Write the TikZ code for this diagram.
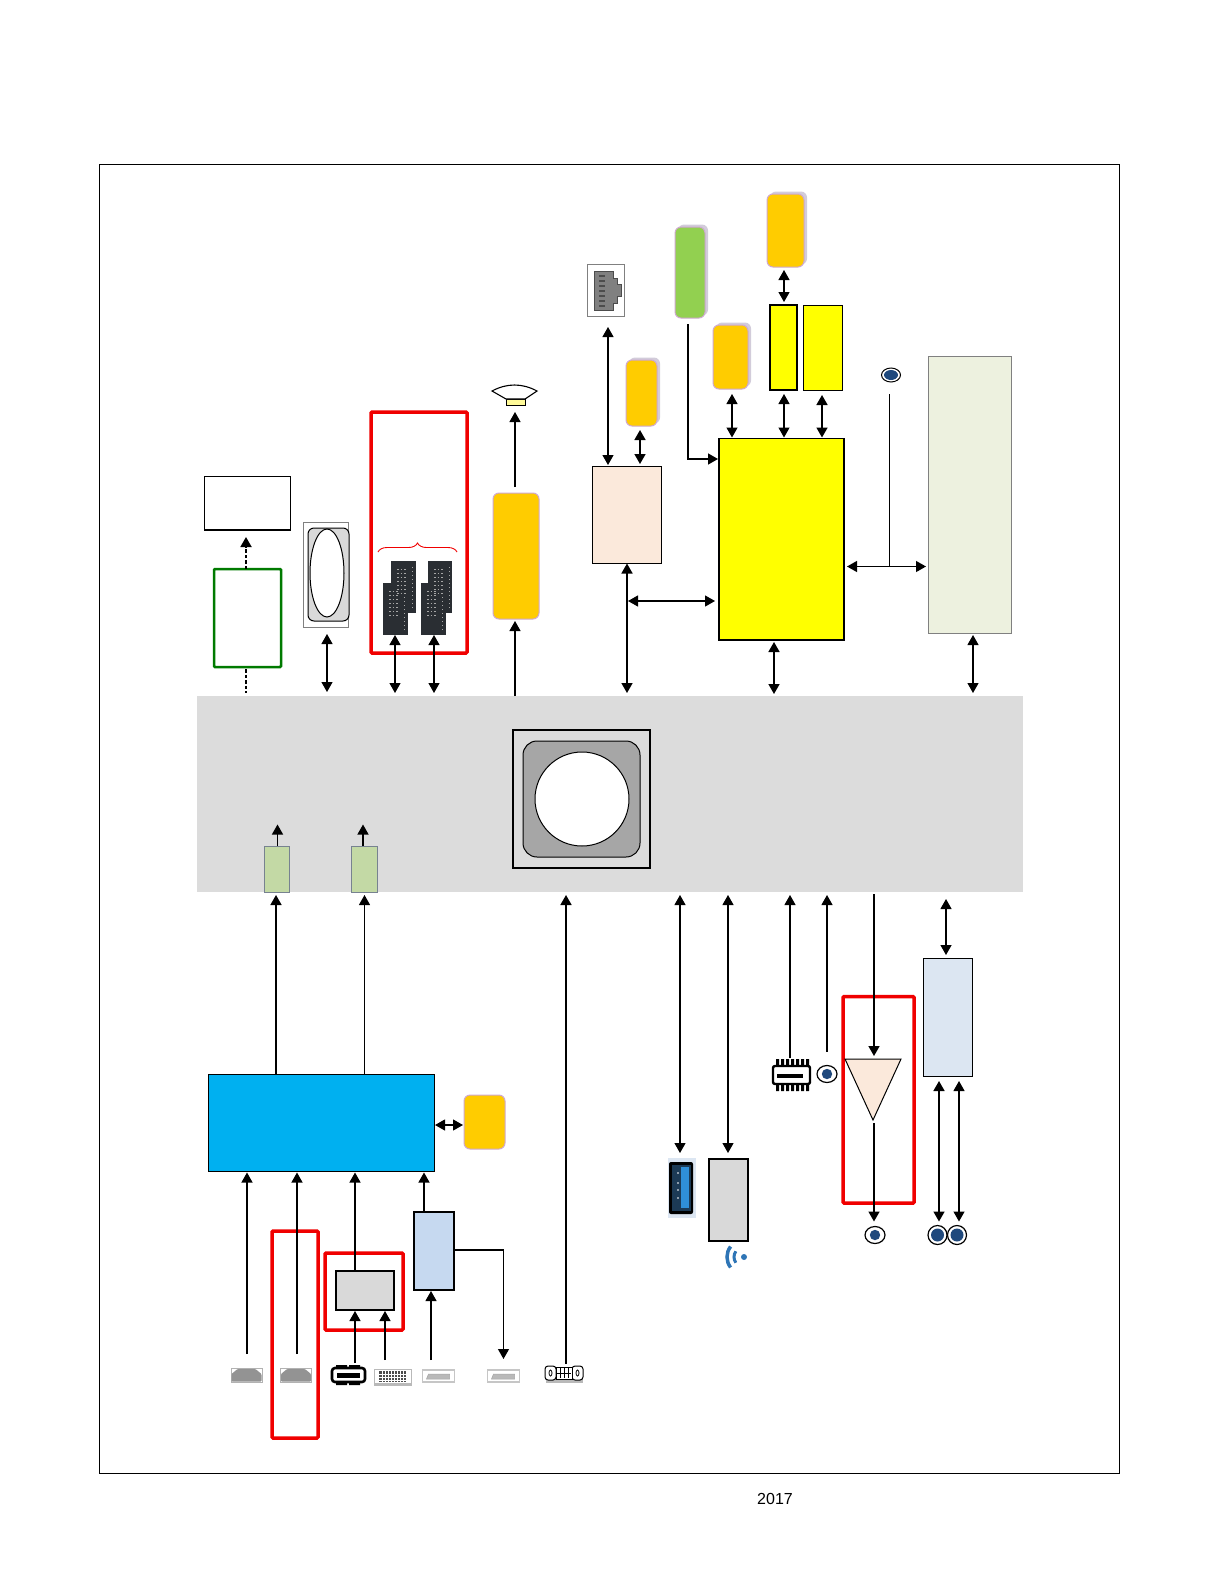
\documentclass[tikz,border=0pt]{standalone}
\usepackage{fontspec}
\setmainfont{Liberation Sans}
\usetikzlibrary{arrows.meta,shapes.geometric,shadows,decorations.pathreplacing}
\definecolor{bandgray}{HTML}{DCDCDC}
\definecolor{boxgray}{HTML}{D9D9D9}
\definecolor{midgray}{HTML}{A6A6A6}
\definecolor{gold}{HTML}{FFCC00}
\definecolor{sunny}{HTML}{FFFF00}
\definecolor{purered}{HTML}{F00000}
\definecolor{lilac}{HTML}{CFA8D0}
\definecolor{softshade}{HTML}{D2CCDA}
\definecolor{leaf}{HTML}{92D050}
\definecolor{peach}{HTML}{FBE9DB}
\definecolor{panelgreen}{HTML}{EDF1DF}
\definecolor{sage}{HTML}{C3D9A5}
\definecolor{skyblue}{HTML}{00B0F0}
\definecolor{paleblue}{HTML}{C6D9F0}
\definecolor{mistblue}{HTML}{DCE6F2}
\definecolor{navy}{HTML}{1F497D}
\definecolor{chipdark}{HTML}{2A2E33}
\definecolor{wifiblue}{HTML}{2E75B6}
\definecolor{usbblue}{HTML}{2F8FD8}
\definecolor{usbdark}{HTML}{1C3A55}
\definecolor{forest}{HTML}{007A00}
\tikzset{
  every node/.style={inner sep=0,outer sep=0},
  arr/.style={line width=1.2,-{Triangle[length=10,width=11]}},
  dbl/.style={line width=1.2,{Triangle[length=10,width=11]}-{Triangle[length=10,width=11]}},
  plainbox/.style={draw=black,line width=1},
  redbox/.style={draw=purered,line width=3.5,rounded corners=1},
  softbox/.style={draw=lilac,line width=1,fill=gold,rounded corners=6},
  shadebox/.style={softbox,copy shadow={shadow xshift=3pt,shadow yshift=2.5pt,draw=none,fill=softshade}},
  jackring/.style={ellipse,draw=black,line width=1.2,fill=white},
  hdmiport/.pic={
    \filldraw[fill=white,draw=gray!60,line width=.8] (-15.5,-7) rectangle (15.5,7);
    \fill[gray!85,rounded corners=1] (-15,6.5) -- (-15,-1) -- (-9,-6) -- (9,-6) -- (15,-1) -- (15,6.5) -- cycle;
  },
  dpport/.pic={
    \filldraw[fill=white,draw=gray!45,line width=1.2] (-16,-6) rectangle (16,6);
    \filldraw[fill=gray!55,draw=gray!70,line width=.5] (-12,3) -- (-10,-2) -- (11,-2) -- (11,3) -- cycle;
  },
  chiprows/.pic={
    \foreach \yy in {8,12,...,32} \draw[gray!70,line width=.7,dash pattern=on 1.5 off 2] (6,\yy) -- (15,\yy);
    \draw[gray!70,line width=.8,dash pattern=on 1 off 3] (21,6) -- (21,48);
  }
}
\newcommand{\nbox}[6]{\node[#1,minimum width={#5-#3},minimum height={#6-#4}] (#2) at ({(#3+#5)/2},{(#4+#6)/2}) {};}
\begin{document}
\begin{tikzpicture}[x=1pt,y=-1pt]
        \useasboundingbox (0,0) rectangle (1219,1587);
        \draw[line width=.8] (99,164) rectangle (1119,1473);
        \nbox{fill=bandgray}{band}{197}{696}{1023}{892}
        \node[font=\fontsize{16}{18}\selectfont] (year) at (775,1499) {2017};
        % upper left
        \nbox{plainbox,fill=white}{scaler}{204}{476}{290}{530}
        \draw[line width=1.5] (scaler.south west) -- (scaler.south east);
        \nbox{draw=forest,line width=2.5,rounded corners=1}{tuner}{214}{569}{281}{667}
        \nbox{draw=gray,line width=1}{ovalframe}{303}{522}{348}{627}
        \nbox{plainbox,fill=boxgray,rounded corners=6}{ovalbody}{308}{528}{349}{621}
        \node[ellipse,draw=black,line width=1,fill=white,minimum width=34,minimum height=88] (ovalhole) at (327,573) {};
        \nbox{redbox}{memred}{371}{412}{467}{653}
        \draw[purered,line width=.9,decorate,decoration={brace,amplitude=9}] (378,552) -- (457,552);
        \nbox{fill=chipdark}{ramC}{391}{561}{416}{613}
        \nbox{fill=chipdark}{ramD}{428}{561}{452}{613}
        \nbox{fill=chipdark}{ramA}{383}{583}{408}{635}
        \nbox{fill=chipdark}{ramB}{421}{583}{446}{635}
        \pic at (391,561) {chiprows};
        \pic at (428,561) {chiprows};
        \pic at (383,583) {chiprows};
        \pic at (421,583) {chiprows};
        \nbox{softbox}{spkamp}{493}{493}{539}{619}
        \nbox{plainbox,fill=yellow!40}{spkbase}{506}{399}{525}{405}
        \filldraw[fill=white,line width=1.1] (506,399) -- (492,391) .. controls (507,383) and (522,383) .. (537,391) -- (525,399) -- cycle;
        % upper right
        \nbox{draw=gray,line width=.8}{lanframe}{587}{264}{624}{316}
        \filldraw[fill=gray,draw=black!70,line width=.6] (594,271) -- (613,271) -- (613,278) -- (617,278) -- (617,284) -- (621,284) -- (621,296) -- (617,296) -- (617,303) -- (613,303) -- (613,310) -- (594,310) -- cycle;
        \draw[black!70,line width=1.6] \foreach \yy in {276,281,...,306} {(599,\yy) -- (605,\yy)};
        \nbox{shadebox}{lanmem}{626}{360}{657}{426}
        \nbox{plainbox,fill=peach}{lanchip}{592}{466}{661}{563.5}
        \nbox{shadebox,fill=leaf}{flash}{675}{227}{705}{318}
        \nbox{shadebox}{memB}{713}{325}{748}{389}
        \nbox{shadebox}{memT}{767}{194}{804}{267}
        \nbox{plainbox,fill=sunny,line width=1.3}{socA}{770}{305}{797}{390}
        \nbox{plainbox,fill=sunny}{socB}{803}{305}{842}{390}
        \nbox{plainbox,fill=sunny,line width=1.3}{main}{719}{438.5}{844}{640}
        \nbox{draw=gray,line width=1,fill=panelgreen}{panel}{928}{356}{1011}{633}
        \node[ellipse,draw=black,line width=1,fill=white,minimum width=19,minimum height=14] (irdot) at (891,375) {};
        \fill[navy] (891,375) circle[x radius=7,y radius=5];
        % centre block
        \nbox{plainbox,line width=1.2,fill=bandgray}{coreframe}{513}{730}{650}{868}
        \nbox{plainbox,fill=midgray,rounded corners=14}{corebody}{523}{741}{640}{857}
        \node[circle,draw=black,line width=1,fill=white,minimum size=94] (corehole) at (582,799) {};
        \nbox{draw=paleblue!60!black,line width=.8,fill=sage}{rxA}{264}{846}{289}{892}
        \nbox{draw=paleblue!60!black,line width=.8,fill=sage}{rxB}{351}{846}{377}{892}
        % lower left
        \nbox{plainbox,fill=skyblue}{hub}{208.5}{1074.5}{434}{1171.5}
        \nbox{softbox}{hubmem}{464}{1095}{505}{1149}
        \nbox{redbox}{hdmired}{272}{1231}{318}{1438}
        \nbox{redbox}{muxred}{325}{1253}{403}{1330}
        \nbox{plainbox,fill=boxgray,line width=1.3}{mux}{336}{1271}{394}{1310}
        \nbox{plainbox,fill=paleblue,line width=1.2}{split}{414}{1212}{454}{1290}
        \nbox{}{hdmiA}{231}{1368}{262}{1382}
        \nbox{}{hdmiB}{280}{1368}{312}{1382}
        \pic at (hdmiA) {hdmiport};
        \pic at (hdmiB) {hdmiport};
        \nbox{draw=black,line width=2.6,fill=white,rounded corners=3}{dpblack}{332}{1368}{365}{1382}
        \fill (336,1365) rectangle (347,1368) (349,1365) rectangle (360,1368) (336,1382) rectangle (347,1385) (349,1382) rectangle (360,1385);
        \fill (337,1372.5) rectangle (360,1377.5);
        \nbox{fill=gray!55}{dvi}{374}{1369}{412}{1386}
        \fill[white] (375,1370) rectangle (411,1383);
        \fill[black!70] (379,1371) rectangle (406,1382);
        \draw[white,line width=.6] \foreach \xx in {382,385,...,403} {(\xx,1371) -- (\xx,1382)} \foreach \yy in {1374,1377,1380} {(379,\yy) -- (406,\yy)};
        \nbox{}{dpA}{422}{1370}{455}{1382}
        \nbox{}{dpB}{487}{1370}{520}{1382}
        \pic at (dpA) {dpport};
        \pic at (dpB) {dpport};
        \nbox{fill=gray!55}{vga}{546}{1372}{583}{1383}
        \filldraw[fill=white,line width=1,rounded corners=3] (545,1366) rectangle (556,1380) (572,1366) rectangle (583,1380);
        \filldraw[fill=white,line width=1] (556,1367) rectangle (572,1379);
        \draw[line width=.8] \foreach \xx in {560,564,568} {(\xx,1368) -- (\xx,1378)} (557,1373) -- (571,1373);
        \draw[line width=.8] (550.5,1373) circle[x radius=1.5,y radius=3] (577.5,1373) circle[x radius=1.5,y radius=3];
        % lower right
        \nbox{fill=mistblue}{usb}{668}{1158}{696}{1218}
        \nbox{fill=black,rounded corners=2}{usbbody}{669}{1162}{693}{1214}
        \fill[usbdark] (672,1165) rectangle (691,1211);
        \fill[usbblue] (681,1167) rectangle (689,1208);
        \foreach \yy in {1173,1183,1190,1198} \fill[white] (678,\yy) circle[radius=.8];
        \nbox{plainbox,fill=boxgray,line width=1.2}{wifi}{709}{1159}{748}{1241}
        \draw[wifiblue,line width=3] (744,1257) ++(145:10) arc[start angle=145,end angle=215,radius=10];
        \draw[wifiblue,line width=3.5] (744,1257) ++(142:17) arc[start angle=142,end angle=218,radius=17];
        \fill[wifiblue] (744,1257) circle[radius=3];
        \nbox{draw=black,line width=2.4,fill=white,rounded corners=2}{spdif}{773}{1066}{810}{1084}
        \foreach \xx in {776,781,...,806} \fill (\xx,1059) rectangle +(3,7) (\xx,1084) rectangle +(3,7);
        \fill (777,1074) rectangle (803,1078);
        \node[jackring,minimum width=20,minimum height=17] (jackin) at (827,1074) {};
        \fill[navy] (827,1074) circle[radius=5.2];
        \nbox{redbox}{ampred}{843}{996.5}{914}{1203}
        \coordinate (amptop) at (874,1059);
        \coordinate (amptip) at (873,1120);
        \filldraw[fill=peach,line width=1] (845,1059) -- (901,1059) -- (amptip) -- cycle;
        \nbox{plainbox,fill=mistblue}{codec}{923}{958}{972}{1076}
        \node[jackring,minimum width=20,minimum height=17] (jackout) at (875,1235) {};
        \fill[navy] (875,1235) circle[radius=5.2];
        \node[jackring,minimum width=19,minimum height=19] (jackL) at (937.5,1235) {};
        \fill[navy] (937.5,1235) circle[radius=6.5];
        \node[jackring,minimum width=19,minimum height=19] (jackR) at (957,1235) {};
        \fill[navy] (957,1235) circle[radius=6.5];
        % connectors above the band
        \draw[arr,line width=1.8,dash pattern=on 3.5 off 2,shorten >=7] (tuner.north -| 246,0) -- (scaler.south -| 246,0);
        \draw[line width=1.8,dash pattern=on 3.5 off 2,shorten <=2,shorten >=3] (tuner.south -| 246,0) -- (band.north -| 246,0);
        \draw[dbl,shorten <=7,shorten >=4] (ovalframe.south -| 327,0) -- (band.north -| 327,0);
        \draw[dbl,shorten >=3] (ramA.south -| 395,0) -- (band.north -| 395,0);
        \draw[dbl,shorten >=3] (ramB.south -| 434,0) -- (band.north -| 434,0);
        \draw[arr,shorten >=2] (band.north -| 515,0) -- (spkamp.south -| 515,0);
        \draw[arr,shorten <=6,shorten >=7] (spkamp.north -| 515,0) -- (spkbase.south -| 515,0);
        \draw[dbl,shorten <=11,shorten >=1] (lanframe.south -| 608,0) -- (lanchip.north -| 608,0);
        \draw[dbl,line width=1.6,shorten <=4,shorten >=2] (lanmem.south -| 640,0) -- (lanchip.north -| 640,0);
        \draw[dbl,line width=1.6,shorten >=3] (lanchip.south -| 627,0) -- (band.north -| 627,0);
        \coordinate (lanbus) at (628,601);
        \draw[dbl,shorten >=4] (lanbus) -- (main.west |- lanbus);
        \draw[arr,line width=1.4,shorten <=6,shorten >=1] (flash.south -| 688,0) |- (main.west |- 0,459);
        \draw[dbl,shorten <=5,shorten >=1] (memB.south -| 732,0) -- (main.north -| 732,0);
        \draw[dbl,shorten <=3,shorten >=3] (memT.south -| 784,0) -- (socA.north -| 784,0);
        \draw[dbl,shorten <=4,shorten >=1] (socA.south -| 784,0) -- (main.north -| 784,0);
        \draw[dbl,line width=1.6,shorten <=5,shorten >=1] (socB.south -| 822,0) -- (main.north -| 822,0);
        \draw[dbl,line width=1.6,shorten <=2,shorten >=2] (main.south -| 774,0) -- (band.north -| 774,0);
        \draw[dbl,shorten <=2,shorten >=3] (panel.south -| 973,0) -- (band.north -| 973,0);
        \coordinate (irbus) at (889,566.5);
        \draw[dbl,shorten <=3,shorten >=2] (main.east |- irbus) -- (panel.west |- irbus);
        \draw[line width=1,shorten <=12] (irdot.south -| irbus) -- (irbus);
        % connectors below the band
        \coordinate (rxAtip) at (277.5,824.5);
        \coordinate (rxBtip) at (363,824.5);
        \draw[arr] (rxA.north -| rxAtip) -- (rxAtip);
        \draw[arr] (rxB.north -| rxBtip) -- (rxBtip);
        \draw[arr,line width=1.6,shorten >=3] (hub.north -| 276,0) -- (band.south -| 276,0);
        \draw[arr,line width=1,shorten >=3] (hub.north -| 364.5,0) -- (band.south -| 364.5,0);
        \draw[dbl,shorten >=1,shorten <=1] (hub.east |- 0,1125) -- (hubmem.west |- 0,1125);
        \draw[arr,shorten <=14,shorten >=1] (hdmiA.north -| 247,0) -- (hub.south -| 247,0);
        \draw[arr,shorten <=14,shorten >=1] (hdmiB.north -| 297,0) -- (hub.south -| 297,0);
        \draw[arr,shorten >=1] (mux.north -| 355,0) -- (hub.south -| 355,0);
        \draw[arr,shorten >=1] (split.north -| 424,0) -- (hub.south -| 424,0);
        \draw[arr,shorten <=5,shorten >=1] (dpblack.north -| 355,0) -- (mux.south -| 355,0);
        \draw[arr,shorten <=9,shorten >=1] (dvi.north -| 385,0) -- (mux.south -| 385,0);
        \draw[arr,shorten <=10,shorten >=1] (dpA.north -| 431,0) -- (split.south -| 431,0);
        \draw[arr,shorten >=11] (split.east |- 0,1250) -| (dpB.north);
        \draw[arr,line width=1.7,shorten <=8,shorten >=3] (vga.north -| 566,0) -- (band.south -| 566,0);
        \draw[dbl,shorten <=3,shorten >=5] (band.south -| 680,0) -- (usb.north -| 680,0);
        \draw[dbl,shorten <=3,shorten >=6] (band.south -| 728,0) -- (wifi.north -| 728,0);
        \draw[arr,shorten <=8,shorten >=3] (spdif.north -| 790,0) -- (band.south -| 790,0);
        \draw[arr,shorten <=14,shorten >=3] (jackin.north -| 827,0) -- (band.south -| 827,0);
        \draw[arr,line width=1.6,shorten <=2,shorten >=3] (band.south -| amptop) -- (amptop);
        \draw[arr,line width=1.6,shorten <=3,shorten >=5] (amptop |- amptip) -- (jackout.north -| amptop);
        \draw[dbl,line width=1.6,shorten <=5,shorten >=4] (codec.south -| 939,0) -- (jackL.north -| 939,0);
        \draw[dbl,shorten <=5,shorten >=4] (codec.south -| 959,0) -- (jackR.north -| 959,0);
        \draw[dbl,shorten <=7,shorten >=3] (band.south -| 946,0) -- (codec.north -| 946,0);
      \end{tikzpicture}
\end{document}
